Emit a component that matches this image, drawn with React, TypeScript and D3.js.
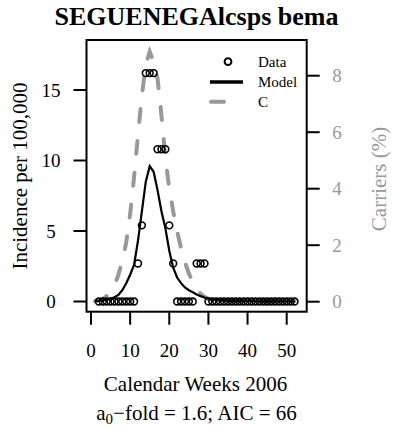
import React from "react";
import * as d3 from "d3";

const dataWeeks = [2,3,4,5,6,7,8,9,10,11,12,13,14,15,16,17,18,19,20,21,22,23,24,25,26,27,28,29,30,31,32,33,34,35,36,37,38,39,40,41,42,43,44,45,46,47,48,49,50,51,52];
const dataValues = [0,0,0,0,0,0,0,0,0,0,2.7,5.4,16.2,16.2,16.2,10.8,10.8,10.8,5.4,2.7,0,0,0,0,0,2.7,2.7,2.7,0,0,0,0,0,0,0,0,0,0,0,0,0,0,0,0,0,0,0,0,0,0,0];

const modelWeeks = d3.range(1, 53);
const modelValues = [0.03,0.05,0.08,0.13,0.2,0.3,0.46,0.8,1.3,1.9,2.6,4.3,6.4,8.5,9.6,9.2,7.9,6.4,5.2,3.6,2.4,1.7,1.3,1.0,0.8,0.65,0.5,0.38,0.28,0.2,0.15,0.11,0.08,0.06,0.05,0.04,0.03,0.03,0.02,0.02,0.02,0.01,0.01,0.01,0.01,0.01,0.01,0.01,0.01,0.01,0.01,0.01];
const carrierValues = [0.02,0.05,0.1,0.2,0.35,0.6,0.95,1.45,2.1,3.1,4.4,5.9,7.3,8.4,8.85,8.5,7.9,6.6,5.1,4.0,3.2,2.5,1.9,1.4,1.0,0.7,0.45,0.28,0.17,0.1,0.06,0.04,0.03,0.02,0.02,0.02,0.02,0.02,0.02,0.02,0.02,0.02,0.02,0.02,0.02,0.02,0.02,0.02,0.02,0.02,0.02,0.02];

const xTicks = [0, 10, 20, 30, 40, 50];
const yLeftTicks = [0, 5, 10, 15];
const yRightTicks = [0, 2, 4, 6, 8];
const legendLabels = ["Data", "Model", "C"];

const FONT = "'Liberation Serif', 'DejaVu Serif', serif";
const GREY = "#999999";

export default function App() {
  const x = d3.scaleLinear().domain([0, 50]).range([91, 286.7]);
  const yL = d3.scaleLinear().domain([0, 15]).range([301.5, 90]);
  const yR = d3.scaleLinear().domain([0, 8]).range([301.7, 75.7]);
  const box = { left: 86.5, right: 306.7, top: 40, bottom: 311.7 };

  const modelLine = d3.line<number>().x((_, i) => x(modelWeeks[i])).y((d) => yL(d))(modelValues) || "";
  const cLine = d3.line<number>().x((_, i) => x(modelWeeks[i])).y((d) => yR(d))(carrierValues) || "";

  return (
    <svg width={394} height={430} style={{ position: "absolute", left: 0, top: 0, background: "#fff" }} fontFamily={FONT}>
      <rect x={0} y={0} width={394} height={430} fill="#fff" />
      <text x={196.5} y={24.5} textAnchor="middle" fontWeight="bold" fontSize={26}>SEGUENEGAlcsps bema</text>

      <path d={cLine} fill="none" stroke={GREY} strokeWidth={4} strokeDasharray="13 19" strokeLinecap="round" />
      <path d={modelLine} fill="none" stroke="#000" strokeWidth={2.2} />
      {dataValues.map((v, i) => (
        <circle key={i} cx={x(dataWeeks[i])} cy={yL(v)} r={3.4} fill="none" stroke="#000" strokeWidth={1.6} />
      ))}

      <rect x={box.left} y={box.top} width={box.right - box.left} height={box.bottom - box.top} fill="none" stroke="#000" strokeWidth={2} />

      {xTicks.map((t) => (
        <g key={t}>
          <line x1={x(t)} x2={x(t)} y1={box.bottom} y2={box.bottom + 13} stroke="#000" strokeWidth={2} />
          <text x={x(t)} y={357} textAnchor="middle" fontSize={19}>{t}</text>
        </g>
      ))}
      {yLeftTicks.map((t) => (
        <g key={t}>
          <line x1={box.left - 13} x2={box.left} y1={yL(t)} y2={yL(t)} stroke="#000" strokeWidth={2} />
          <text x={51} y={yL(t) + 6.5} textAnchor="middle" fontSize={19}>{t}</text>
        </g>
      ))}
      {yRightTicks.map((t) => (
        <g key={t}>
          <line x1={box.right} x2={box.right + 13} y1={yR(t)} y2={yR(t)} stroke="#000" strokeWidth={2} />
          <text x={337} y={yR(t) + 6.5} textAnchor="middle" fontSize={19} fill={GREY}>{t}</text>
        </g>
      ))}

      <text transform="translate(27,176) rotate(-90)" textAnchor="middle" fontSize={21}>Incidence per 100,000</text>
      <text transform="translate(386,179) rotate(-90)" textAnchor="middle" fontSize={21} fill={GREY}>Carriers (%)</text>
      <text x={195.5} y={391} textAnchor="middle" fontSize={21}>Calendar Weeks 2006</text>
      <text x={196.5} y={420} textAnchor="middle" fontSize={21}>
        a<tspan fontSize={15} dy={4}>0</tspan><tspan dy={-4}>−fold = 1.6; AIC = 66</tspan>
      </text>

      <circle cx={228} cy={61.7} r={3.4} fill="none" stroke="#000" strokeWidth={2} />
      <line x1={210} x2={243} y1={82} y2={82} stroke="#000" strokeWidth={3.5} />
      <line x1={211} x2={224} y1={101.7} y2={101.7} stroke={GREY} strokeWidth={4} strokeLinecap="round" />
      {legendLabels.map((l, i) => (
        <text key={l} x={258} y={66.7 + i * 20} fontSize={15}>{l}</text>
      ))}
    </svg>
  );
}
